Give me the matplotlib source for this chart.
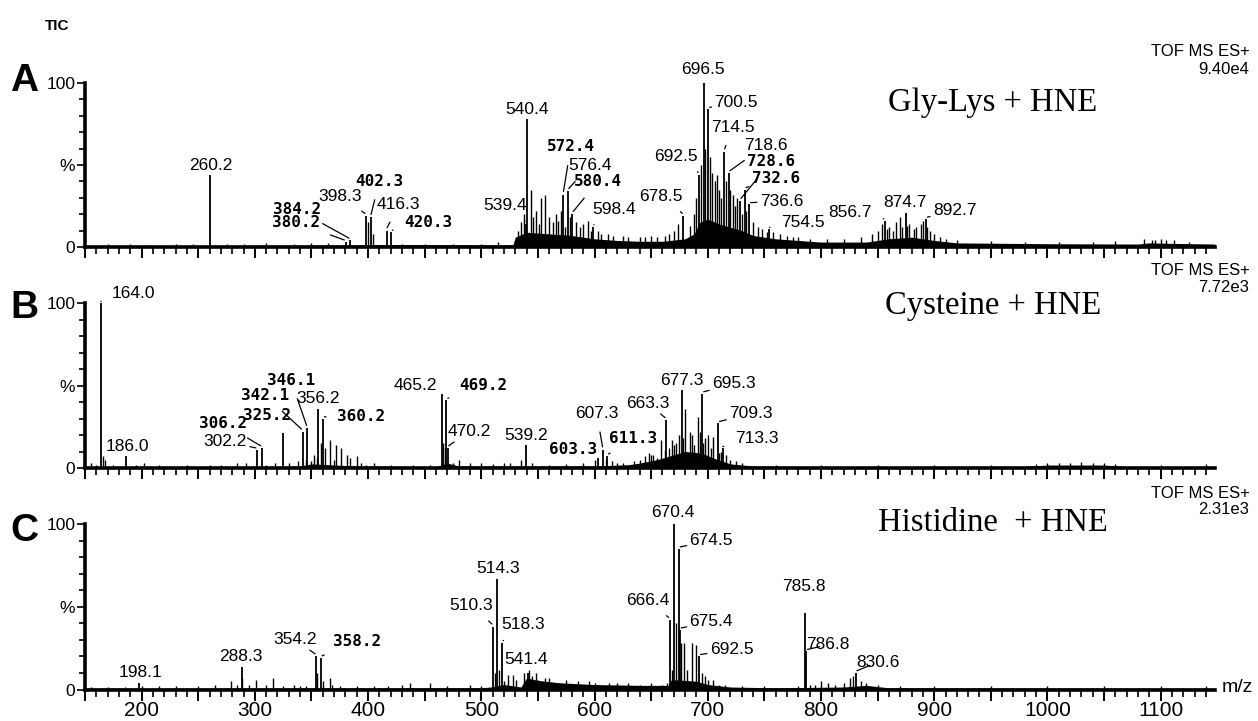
import numpy as np
import matplotlib
matplotlib.use("Agg")
from matplotlib import pyplot as plt
from matplotlib.ticker import MultipleLocator, FuncFormatter


# ─────────────────────────────────────────────────────────────────
# DATA  (m/z, relative intensity %)
# ─────────────────────────────────────────────────────────────────

X_MIN, X_MAX = 150, 1148

# --- Panel A : Gly-Lys + HNE ---
A_LABELS = ["260.2", "380.2", "384.2", "398.3", "402.3", "416.3", "420.3",
            "539.4", "540.4", "572.4", "576.4", "580.4", "598.4", "678.5",
            "692.5", "696.5", "700.5", "714.5", "718.6", "728.6", "732.6",
            "736.6", "754.5", "856.7", "874.7", "892.7"]
A_HEIGHTS = [44, 3, 4, 19, 18, 10, 9,
             14, 78, 32, 34, 20, 12, 19,
             44, 100, 84, 58, 45, 28, 35,
             26, 11, 16, 21, 17]
A_MINOR_MZ = [400, 404, 544, 548, 553, 556, 560, 566, 570, 584, 590, 594,
              603, 612, 625, 640, 655, 670, 674, 684, 688, 690, 694, 698,
              702, 704, 706, 708, 710, 712, 716, 720, 722, 724, 726, 730,
              734, 740, 744, 748, 758, 770, 780, 850, 854, 860, 866, 870,
              872, 878, 884, 888, 890, 896, 905, 1095, 1105,
              170, 190, 205, 230, 245, 275, 290, 310, 335, 350, 365, 430,
              450, 475, 500, 515,
              532, 535, 538, 546, 551, 563, 568, 574, 578, 587, 597, 606,
              616, 630, 645, 650, 662, 666,
              752, 764, 775, 790, 805, 820, 835, 845, 858, 864, 876, 882,
              894, 900, 910,
              920, 950, 980, 1010, 1040, 1060, 1085, 1092, 1100, 1112, 1125]
A_MINOR_H = [15, 8, 35, 22, 30, 32, 18, 20, 22, 15, 14, 16,
             10, 8, 7, 6, 6, 10, 14, 13, 20, 30, 50, 60,
             55, 45, 40, 44, 35, 30, 40, 35, 32, 25, 30, 20,
             22, 15, 12, 11, 9, 7, 6, 10, 14, 12, 15, 18,
             12, 14, 12, 14, 16, 10, 6, 4, 4,
             2, 2, 1.5, 2, 2, 2, 2, 2.5, 2, 2.5, 2.5, 2,
             2, 2, 2, 3,
             10, 15, 20, 18, 14, 15, 16, 12, 18, 12, 10, 8,
             7, 6, 6, 7, 7, 8,
             9, 8, 6, 5, 5, 5, 6, 8, 11, 10, 13, 11,
             12, 8, 5,
             4, 3.5, 3, 3, 3, 3.5, 5, 4.5, 5, 4, 3]
A_ENV_MZ = [150, 250, 380, 420, 520, 528, 530, 540, 560, 580, 600, 620, 640,
            660, 680, 688, 693, 700, 710, 720, 730, 740, 760, 800, 840, 860,
            880, 900, 920, 1000, 1080, 1090, 1110, 1148]
A_ENV_H = [0.8, 0.8, 1.2, 1.5, 1.2, 1.5, 6, 9, 8, 7, 5, 4, 3.5,
           3.5, 5, 8, 15, 17, 14, 12, 10, 7, 5, 3, 3, 5,
           6, 4, 2.5, 2, 1.8, 2.5, 2.2, 1.8]

# --- Panel B : Cysteine + HNE ---
B_LABELS = ["164.0", "186.0", "302.2", "306.2", "325.2", "342.1", "346.1",
            "356.2", "360.2", "465.2", "469.2", "470.2", "539.2", "603.3",
            "607.3", "611.3", "663.3", "677.3", "695.3", "709.3", "713.3"]
B_HEIGHTS = [100, 7, 11, 12, 21, 22, 24,
             36, 30, 45, 41, 12, 14, 6,
             11, 7, 29, 47, 45, 27, 12]
B_MINOR_MZ = [155, 166, 168, 202, 284, 292, 318, 338, 350, 352, 358, 362,
              366, 372, 376, 381, 390, 394, 405, 466, 468, 480, 500, 520,
              535, 600, 620, 640, 645, 650, 655, 659, 666, 668, 672, 675,
              680, 684, 688, 691, 693, 698, 700, 705, 716, 720, 1000, 1020,
              1040,
              160, 175, 195, 215, 240, 260, 270, 310, 330, 345, 355, 370,
              384, 398, 420, 440, 455, 475, 490, 510, 525, 545, 560, 575,
              590, 610, 615, 625, 635, 648, 652, 662, 670, 678, 686, 696,
              703, 710, 712, 725, 730, 760, 800, 850, 900, 950, 990, 1010,
              1030, 1050, 1060, 1100, 1140]
B_MINOR_H = [3, 7, 5, 3, 3, 3, 3, 4, 4, 8, 15, 12,
             17, 14, 12, 8, 7, 3, 3, 15, 12, 5, 3, 3,
             5, 5, 3, 5, 7, 8, 6, 17, 12, 17, 15, 20,
             36, 22, 14, 31, 22, 18, 20, 19, 8, 5, 3, 3,
             3,
             2, 2, 2, 2, 2, 2, 2, 2, 3, 5, 6, 5,
             6, 2, 2, 2, 2, 3, 3, 2.5, 3, 3, 2, 2.5,
             3, 5, 4, 3, 4, 9, 8, 11, 14, 18, 20, 15,
             12, 9, 10, 4, 3, 2, 2, 2, 2, 2, 2.5, 3,
             3.5, 3, 2.5, 2, 2.5]
B_ENV_MZ = [150, 300, 340, 350, 390, 460, 470, 480, 600, 630, 640, 655, 665,
            680, 695, 705, 720, 740, 800, 980, 1000, 1050, 1070, 1148]
B_ENV_H = [0.5, 0.6, 1.2, 2.5, 1.2, 0.8, 3, 1.2, 1.2, 2, 3, 5, 7,
           10, 9, 6, 2.5, 1.2, 0.8, 1, 1.8, 1.8, 0.8, 0.8]

# --- Panel C : Histidine + HNE ---
C_LABELS = ["198.1", "288.3", "354.2", "358.2", "510.3", "514.3", "518.3",
            "541.4", "666.4", "670.4", "674.5", "675.4", "692.5", "785.8",
            "786.8", "830.6"]
C_HEIGHTS = [4, 13.5, 20, 19, 38, 67, 28,
             10, 42, 100, 85, 36, 20, 46,
             23, 10]
C_MINOR_MZ = [155, 230, 250, 265, 279, 289, 301, 316, 340, 355, 360, 366,
              368, 418, 430, 437, 455, 490, 512, 516, 524, 528, 545, 550,
              556, 570, 600, 613, 640, 660, 668, 672, 676, 679, 682, 686,
              690, 695, 700, 710, 790, 800, 806, 826, 828, 835,
              170, 185, 200, 215, 284, 295, 310, 325, 335, 345, 375, 390,
              405, 470, 500, 520, 531, 538, 542, 548, 560, 575, 585, 595,
              620, 630, 650, 664, 698, 705, 715, 730, 750, 780, 795, 812,
              820, 840, 850, 870, 900, 950, 1000, 1050, 1100, 1140]
C_MINOR_H = [1.5, 2, 2, 2.5, 5, 7, 6, 7, 2, 10, 5, 7,
             3, 2, 3, 4, 4, 3, 10, 12, 9, 9, 8, 6,
             7, 4, 4, 4, 3, 3, 12, 40, 28, 28, 12, 28,
             27, 10, 6, 3, 3, 5, 4, 7, 8, 5,
             1.5, 1.5, 2, 2, 3, 3, 2.5, 2, 2.5, 2, 2, 2,
             2, 2, 2, 5, 6, 10, 12, 10, 7, 6, 5, 5,
             4, 4, 4, 4, 8, 6, 3, 2, 2, 2, 3, 3,
             4, 4, 3, 2, 2, 2, 2, 2, 2, 2]
C_ENV_MZ = [150, 500, 508, 520, 535, 540, 550, 570, 600, 640, 665, 668, 690,
            700, 720, 760, 820, 840, 860, 1148]
C_ENV_H = [0.8, 1, 1.5, 3, 1.5, 7, 5.5, 4, 3, 2.5, 2.5, 6, 5,
           3, 1.5, 1, 1.5, 2.5, 1, 0.8]

TITLES = ["Gly-Lys + HNE", "Cysteine + HNE", "Histidine  + HNE"]
LETTERS = ["A", "B", "C"]
SCALES = ["9.40e4", "7.72e3", "2.31e3"]


# ─────────────────────────────────────────────────────────────────
# LABEL LAYOUT  (text centre in data coords, leader?, mono font?)
# ─────────────────────────────────────────────────────────────────

A_TXT = [(261, 50), (336, 15), (337, 23), (375, 31), (410, 40), (427, 26), (453, 15),
         (521, 25), (540, 84), (579, 61), (596, 50), (603, 40), (617, 23), (659, 31),
         (672, 55), (696, 108), (725, 88), (722, 73), (751, 62), (756, 52), (760, 42),
         (765, 28), (784, 15), (826, 21), (874, 27), (918, 22)]
A_LEAD = [0, 1, 1, 1, 1, 1, 1,
          1, 0, 1, 1, 1, 1, 1,
          1, 0, 1, 1, 1, 1, 1,
          1, 1, 1, 0, 1]
A_MONO = [0, 1, 1, 0, 1, 0, 1,
          0, 0, 1, 0, 1, 0, 0,
          0, 0, 0, 0, 0, 1, 1,
          0, 0, 0, 0, 0]

B_TXT = [(193, 106), (187, 13), (274, 16), (272, 27), (311, 32), (309, 44), (332, 53),
         (356, 42), (394, 31), (442, 50), (502, 50), (489, 22), (540, 20), (581, 11),
         (602, 33), (634, 18), (647, 39), (677, 53), (723, 51), (738, 33), (743, 18)]
B_LEAD = [1, 0, 1, 1, 0, 1, 1,
          0, 1, 0, 1, 1, 0, 0,
          1, 1, 1, 0, 1, 1, 1]
B_MONO = [0, 0, 0, 1, 1, 1, 1,
          0, 1, 0, 1, 0, 0, 1,
          0, 1, 0, 0, 0, 0, 0]

C_TXT = [(199, 10), (288, 20), (336, 30), (390, 29), (491, 51), (515, 73), (537, 39),
         (540, 18), (647, 54), (669, 107), (703, 90), (703, 41), (721, 24), (785, 62),
         (806, 27), (850, 16.5)]
C_LEAD = [0, 0, 1, 1, 1, 0, 1,
          0, 1, 0, 1, 1, 1, 0,
          1, 1]
C_MONO = [0, 0, 0, 1, 0, 0, 0,
          0, 0, 0, 0, 0, 0, 0,
          0, 0]


# ─────────────────────────────────────────────────────────────────
# FIGURE
# ─────────────────────────────────────────────────────────────────

W, H = 1258, 721
fig = plt.figure(figsize=(W / 100, H / 100), dpi=100)

SANS = "Liberation Sans"
MONO = "DejaVu Sans Mono"
SERIF = "Liberation Serif"

# panel rects in pixel terms: (top of 100, baseline of 0)
PANEL_PX = [(83, 247), (303, 468), (524, 689.5)]
LEFT_PX, RIGHT_PX = 85, 1215
LETTER_Y = [81, 308, 531]
TITLE_Y = [103, 306, 523]
TOF_Y = [52, 270, 493]

panels = [
    (A_LABELS, A_HEIGHTS, A_MINOR_MZ, A_MINOR_H, A_ENV_MZ, A_ENV_H, A_TXT, A_LEAD, A_MONO),
    (B_LABELS, B_HEIGHTS, B_MINOR_MZ, B_MINOR_H, B_ENV_MZ, B_ENV_H, B_TXT, B_LEAD, B_MONO),
    (C_LABELS, C_HEIGHTS, C_MINOR_MZ, C_MINOR_H, C_ENV_MZ, C_ENV_H, C_TXT, C_LEAD, C_MONO),
]

for i, (labels, heights, mmz, mh, emz, eh, txt, lead, mono) in enumerate(panels):
    top, base = PANEL_PX[i]
    ax = fig.add_axes([LEFT_PX / W, 1 - base / H,
                       (RIGHT_PX - LEFT_PX) / W, (base - top) / H])
    ax.set_xlim(X_MIN, X_MAX)
    ax.set_ylim(0, 100)

    # baseline grass + spectrum sticks
    ax.fill_between(emz, 0, eh, color="black", lw=0, zorder=2)
    ax.vlines(mmz, 0, mh, color="black", lw=1.0, zorder=3)
    peak_mz = [float(s) for s in labels]
    ax.vlines(peak_mz, 0, heights, color="black", lw=1.3, zorder=3)

    # peak labels
    for lab, mz, h, (tx, ty), ld, mo in zip(labels, peak_mz, heights, txt, lead, mono):
        fam = MONO if mo else SANS
        kw = dict(fontsize=11.5 if mo else 12.5, family=fam,
                  fontweight="bold" if mo else "normal",
                  ha="center", va="center", annotation_clip=False, zorder=5)
        if ld:
            ax.annotate(lab, xy=(mz, h + 1), xytext=(tx, ty),
                        arrowprops=dict(arrowstyle="-", lw=0.9, color="black",
                                        shrinkA=6, shrinkB=1), **kw)
        else:
            ax.annotate(lab, xy=(tx, ty), **kw)

    # axes styling
    for s in ["top", "right"]:
        ax.spines[s].set_visible(False)
    for s in ["left", "bottom"]:
        ax.spines[s].set_linewidth(2.6)
    ax.set_yticks([0, 50, 100])
    ax.set_yticklabels(["0", "%", "100"], family=SANS, fontsize=12.5)
    ax.yaxis.set_minor_locator(MultipleLocator(10))
    ax.xaxis.set_major_locator(MultipleLocator(50))
    ax.xaxis.set_minor_locator(MultipleLocator(10))
    if i == 2:
        ax.xaxis.set_major_formatter(
            FuncFormatter(lambda v, p: f"{int(v)}" if v % 100 == 0 else ""))
    else:
        ax.xaxis.set_major_formatter(FuncFormatter(lambda v, p: ""))
    for lab in ax.get_xticklabels():
        lab.set_family(SANS)
    ax.tick_params(axis="x", which="major", length=8, width=1.4, labelsize=15, pad=0)
    ax.tick_params(axis="x", which="minor", length=5, width=1.2)
    ax.tick_params(axis="y", which="major", length=6, width=1.2, pad=1)
    ax.tick_params(axis="y", which="minor", length=4, width=1.2)

    # text decorations
    fig.text(24 / W, 1 - LETTER_Y[i] / H, LETTERS[i], family=SANS, fontsize=28,
             fontweight="bold", ha="center", va="center")
    fig.text(993 / W, 1 - TITLE_Y[i] / H, TITLES[i], family=SERIF, fontsize=23.5,
             ha="center", va="center")
    fig.text(1250 / W, 1 - TOF_Y[i] / H, "TOF MS ES+", family=SANS, fontsize=12,
             ha="right", va="center")
    fig.text(1249 / W, 1 - (TOF_Y[i] + 17) / H, SCALES[i], family=SANS, fontsize=12,
             ha="right", va="center")

fig.text(57 / W, 1 - 26 / H, "TIC", family=SANS, fontsize=11, fontweight="bold",
         ha="center", va="center")
fig.text(1222 / W, 1 - 688 / H, "m/z", family=SANS, fontsize=14,
         ha="left", va="center")

fig.savefig("out.png", dpi=100)
